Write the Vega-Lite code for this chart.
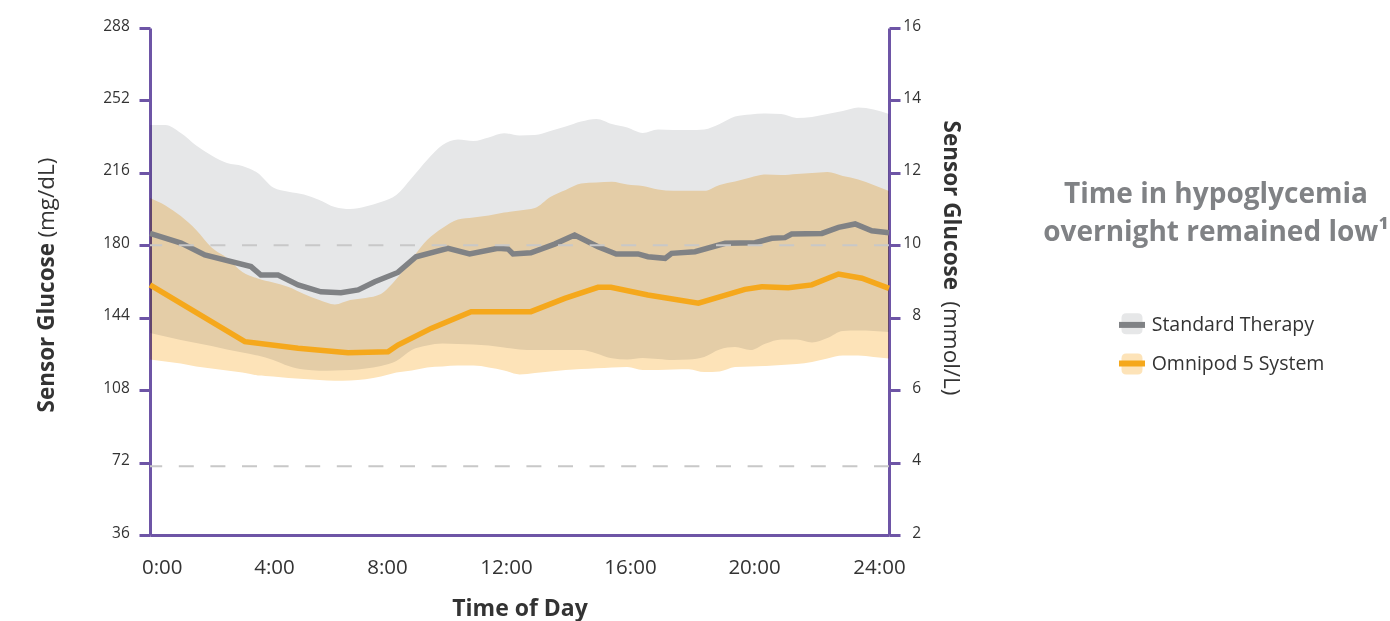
{
  "$schema": "https://vega.github.io/schema/vega-lite/v6.json",
  "width": 739,
  "height": 507,
  "autosize": {"type": "none"},
  "padding": {"left": 150, "top": 28, "right": 501, "bottom": 86},
  "background": "white",
  "config": {
    "font": "Open Sans",
    "view": {"stroke": null},
    "axis": {"labelFont": "Open Sans", "titleFont": "Open Sans", "grid": false},
    "legend": {"labelFont": "Open Sans"},
    "title": {"font": "Open Sans"}
  },
  "title": {
    "text": ["Time in hypoglycemia", "overnight remained low¹"],
    "anchor": "start",
    "frame": "group",
    "align": "center",
    "baseline": "top",
    "dx": 1066,
    "dy": 229,
    "offset": 0,
    "fontSize": 28,
    "fontWeight": "bold",
    "color": "#808285",
    "lineHeight": 38.4
  },
  "datasets": {
    "bands": [
      {"h": 0, "band": "Standard Therapy", "lo": 136.4, "hi": 239.8}, {"h": 0, "band": "Omnipod 5 System", "lo": 123.2, "hi": 203.5},
      {"h": 0.5, "band": "Standard Therapy", "lo": 134.7, "hi": 239.8}, {"h": 0.5, "band": "Omnipod 5 System", "lo": 122.2, "hi": 199.8},
      {"h": 1, "band": "Standard Therapy", "lo": 132.9, "hi": 235.8}, {"h": 1, "band": "Omnipod 5 System", "lo": 121.2, "hi": 194.5},
      {"h": 1.5, "band": "Standard Therapy", "lo": 131.4, "hi": 229.6}, {"h": 1.5, "band": "Omnipod 5 System", "lo": 119.7, "hi": 187.6},
      {"h": 2, "band": "Standard Therapy", "lo": 129.9, "hi": 224.6}, {"h": 2, "band": "Omnipod 5 System", "lo": 118.8, "hi": 178.9},
      {"h": 2.5, "band": "Standard Therapy", "lo": 128.2, "hi": 220.9}, {"h": 2.5, "band": "Omnipod 5 System", "lo": 117.8, "hi": 173.7},
      {"h": 3, "band": "Standard Therapy", "lo": 126.7, "hi": 219.4}, {"h": 3, "band": "Omnipod 5 System", "lo": 116.8, "hi": 166.7},
      {"h": 3.5, "band": "Standard Therapy", "lo": 125.2, "hi": 215.9}, {"h": 3.5, "band": "Omnipod 5 System", "lo": 115.3, "hi": 163.5},
      {"h": 4, "band": "Standard Therapy", "lo": 123.0, "hi": 208.7}, {"h": 4, "band": "Omnipod 5 System", "lo": 114.8, "hi": 161.5},
      {"h": 4.5, "band": "Standard Therapy", "lo": 120.0, "hi": 206.6}, {"h": 4.5, "band": "Omnipod 5 System", "lo": 114.0, "hi": 159.3},
      {"h": 5, "band": "Standard Therapy", "lo": 118.2, "hi": 205.2}, {"h": 5, "band": "Omnipod 5 System", "lo": 113.5, "hi": 155.8},
      {"h": 5.5, "band": "Standard Therapy", "lo": 117.7, "hi": 202.5}, {"h": 5.5, "band": "Omnipod 5 System", "lo": 113.0, "hi": 152.8},
      {"h": 6, "band": "Standard Therapy", "lo": 117.8, "hi": 199.0}, {"h": 6, "band": "Omnipod 5 System", "lo": 112.7, "hi": 150.6},
      {"h": 6.5, "band": "Standard Therapy", "lo": 118.0, "hi": 198.0}, {"h": 6.5, "band": "Omnipod 5 System", "lo": 112.8, "hi": 152.8},
      {"h": 7, "band": "Standard Therapy", "lo": 118.8, "hi": 199.3}, {"h": 7, "band": "Omnipod 5 System", "lo": 113.4, "hi": 153.8},
      {"h": 7.5, "band": "Standard Therapy", "lo": 120.0, "hi": 201.5}, {"h": 7.5, "band": "Omnipod 5 System", "lo": 114.8, "hi": 155.8},
      {"h": 8, "band": "Standard Therapy", "lo": 122.5, "hi": 205.0}, {"h": 8, "band": "Omnipod 5 System", "lo": 116.8, "hi": 163.2},
      {"h": 8.5, "band": "Standard Therapy", "lo": 128.0, "hi": 213.4}, {"h": 8.5, "band": "Omnipod 5 System", "lo": 117.8, "hi": 173.2},
      {"h": 9, "band": "Standard Therapy", "lo": 130.2, "hi": 222.4}, {"h": 9, "band": "Omnipod 5 System", "lo": 119.3, "hi": 182.6},
      {"h": 9.5, "band": "Standard Therapy", "lo": 131.2, "hi": 229.8}, {"h": 9.5, "band": "Omnipod 5 System", "lo": 119.8, "hi": 188.6},
      {"h": 10, "band": "Standard Therapy", "lo": 130.9, "hi": 232.6}, {"h": 10, "band": "Omnipod 5 System", "lo": 120.2, "hi": 192.8},
      {"h": 10.5, "band": "Standard Therapy", "lo": 130.7, "hi": 231.8}, {"h": 10.5, "band": "Omnipod 5 System", "lo": 120.2, "hi": 193.8},
      {"h": 11, "band": "Standard Therapy", "lo": 130.2, "hi": 233.6}, {"h": 11, "band": "Omnipod 5 System", "lo": 119.3, "hi": 194.8},
      {"h": 11.5, "band": "Standard Therapy", "lo": 129.2, "hi": 235.7}, {"h": 11.5, "band": "Omnipod 5 System", "lo": 117.8, "hi": 196.3},
      {"h": 12, "band": "Standard Therapy", "lo": 128.2, "hi": 234.6}, {"h": 12, "band": "Omnipod 5 System", "lo": 115.8, "hi": 197.3},
      {"h": 12.5, "band": "Standard Therapy", "lo": 127.9, "hi": 234.8}, {"h": 12.5, "band": "Omnipod 5 System", "lo": 116.5, "hi": 198.5},
      {"h": 13, "band": "Standard Therapy", "lo": 127.9, "hi": 236.8}, {"h": 13, "band": "Omnipod 5 System", "lo": 117.3, "hi": 204.0},
      {"h": 13.5, "band": "Standard Therapy", "lo": 127.9, "hi": 239.0}, {"h": 13.5, "band": "Omnipod 5 System", "lo": 118.0, "hi": 207.5},
      {"h": 14, "band": "Standard Therapy", "lo": 127.9, "hi": 241.5}, {"h": 14, "band": "Omnipod 5 System", "lo": 118.5, "hi": 210.7},
      {"h": 14.5, "band": "Standard Therapy", "lo": 126.2, "hi": 242.8}, {"h": 14.5, "band": "Omnipod 5 System", "lo": 118.9, "hi": 211.2},
      {"h": 15, "band": "Standard Therapy", "lo": 123.8, "hi": 240.3}, {"h": 15, "band": "Omnipod 5 System", "lo": 119.3, "hi": 211.6},
      {"h": 15.5, "band": "Standard Therapy", "lo": 123.2, "hi": 238.5}, {"h": 15.5, "band": "Omnipod 5 System", "lo": 119.5, "hi": 210.2},
      {"h": 16, "band": "Standard Therapy", "lo": 124.0, "hi": 235.8}, {"h": 16, "band": "Omnipod 5 System", "lo": 118.0, "hi": 209.5},
      {"h": 16.5, "band": "Standard Therapy", "lo": 123.5, "hi": 237.5}, {"h": 16.5, "band": "Omnipod 5 System", "lo": 118.0, "hi": 207.7},
      {"h": 17, "band": "Standard Therapy", "lo": 123.0, "hi": 237.3}, {"h": 17, "band": "Omnipod 5 System", "lo": 118.3, "hi": 207.1},
      {"h": 17.5, "band": "Standard Therapy", "lo": 123.2, "hi": 237.3}, {"h": 17.5, "band": "Omnipod 5 System", "lo": 118.4, "hi": 207.1},
      {"h": 18, "band": "Standard Therapy", "lo": 124.5, "hi": 237.6}, {"h": 18, "band": "Omnipod 5 System", "lo": 117.0, "hi": 207.1},
      {"h": 18.5, "band": "Standard Therapy", "lo": 128.2, "hi": 240.3}, {"h": 18.5, "band": "Omnipod 5 System", "lo": 117.3, "hi": 210.0},
      {"h": 19, "band": "Standard Therapy", "lo": 129.4, "hi": 244.0}, {"h": 19, "band": "Omnipod 5 System", "lo": 119.5, "hi": 211.7},
      {"h": 19.5, "band": "Standard Therapy", "lo": 127.9, "hi": 245.0}, {"h": 19.5, "band": "Omnipod 5 System", "lo": 119.7, "hi": 213.7},
      {"h": 20, "band": "Standard Therapy", "lo": 131.2, "hi": 245.5}, {"h": 20, "band": "Omnipod 5 System", "lo": 120.0, "hi": 215.2},
      {"h": 20.5, "band": "Standard Therapy", "lo": 133.2, "hi": 245.2}, {"h": 20.5, "band": "Omnipod 5 System", "lo": 120.5, "hi": 214.9},
      {"h": 21, "band": "Standard Therapy", "lo": 133.2, "hi": 243.3}, {"h": 21, "band": "Omnipod 5 System", "lo": 121.0, "hi": 215.4},
      {"h": 21.5, "band": "Standard Therapy", "lo": 131.7, "hi": 243.8}, {"h": 21.5, "band": "Omnipod 5 System", "lo": 122.0, "hi": 215.9},
      {"h": 22, "band": "Standard Therapy", "lo": 133.9, "hi": 245.2}, {"h": 22, "band": "Omnipod 5 System", "lo": 123.7, "hi": 216.4},
      {"h": 22.5, "band": "Standard Therapy", "lo": 137.4, "hi": 246.7}, {"h": 22.5, "band": "Omnipod 5 System", "lo": 125.2, "hi": 214.4},
      {"h": 23, "band": "Standard Therapy", "lo": 137.6, "hi": 248.5}, {"h": 23, "band": "Omnipod 5 System", "lo": 125.2, "hi": 212.7},
      {"h": 23.5, "band": "Standard Therapy", "lo": 137.4, "hi": 247.5}, {"h": 23.5, "band": "Omnipod 5 System", "lo": 124.5, "hi": 210.0},
      {"h": 24, "band": "Standard Therapy", "lo": 136.9, "hi": 245.2}, {"h": 24, "band": "Omnipod 5 System", "lo": 123.7, "hi": 207.0}
    ],
    "medians": [
      {"h": 0, "series": "Standard Therapy", "glucose": 185.9},
      {"h": 1.01, "series": "Standard Therapy", "glucose": 181.1},
      {"h": 1.78, "series": "Standard Therapy", "glucose": 175.2},
      {"h": 3.28, "series": "Standard Therapy", "glucose": 169.4},
      {"h": 3.6, "series": "Standard Therapy", "glucose": 165.2},
      {"h": 4.16, "series": "Standard Therapy", "glucose": 165.2},
      {"h": 4.81, "series": "Standard Therapy", "glucose": 160.3},
      {"h": 5.55, "series": "Standard Therapy", "glucose": 156.9},
      {"h": 6.2, "series": "Standard Therapy", "glucose": 156.4},
      {"h": 6.76, "series": "Standard Therapy", "glucose": 157.8},
      {"h": 7.3, "series": "Standard Therapy", "glucose": 161.9},
      {"h": 8.05, "series": "Standard Therapy", "glucose": 166.5},
      {"h": 8.64, "series": "Standard Therapy", "glucose": 174.3},
      {"h": 9.68, "series": "Standard Therapy", "glucose": 178.5},
      {"h": 10.38, "series": "Standard Therapy", "glucose": 175.7},
      {"h": 11.3, "series": "Standard Therapy", "glucose": 178.5},
      {"h": 11.63, "series": "Standard Therapy", "glucose": 178.1},
      {"h": 11.79, "series": "Standard Therapy", "glucose": 175.7},
      {"h": 12.37, "series": "Standard Therapy", "glucose": 176.3},
      {"h": 13.14, "series": "Standard Therapy", "glucose": 180.6},
      {"h": 13.79, "series": "Standard Therapy", "glucose": 185.1},
      {"h": 14.55, "series": "Standard Therapy", "glucose": 179.3},
      {"h": 15.14, "series": "Standard Therapy", "glucose": 175.7},
      {"h": 15.85, "series": "Standard Therapy", "glucose": 175.7},
      {"h": 16.17, "series": "Standard Therapy", "glucose": 174.3},
      {"h": 16.73, "series": "Standard Therapy", "glucose": 173.5},
      {"h": 16.94, "series": "Standard Therapy", "glucose": 176.0},
      {"h": 17.7, "series": "Standard Therapy", "glucose": 176.8},
      {"h": 18.68, "series": "Standard Therapy", "glucose": 181.0},
      {"h": 19.65, "series": "Standard Therapy", "glucose": 181.3},
      {"h": 20.19, "series": "Standard Therapy", "glucose": 183.5},
      {"h": 20.62, "series": "Standard Therapy", "glucose": 183.8},
      {"h": 20.84, "series": "Standard Therapy", "glucose": 185.6},
      {"h": 21.82, "series": "Standard Therapy", "glucose": 185.9},
      {"h": 22.36, "series": "Standard Therapy", "glucose": 188.9},
      {"h": 22.9, "series": "Standard Therapy", "glucose": 190.6},
      {"h": 23.44, "series": "Standard Therapy", "glucose": 187.2},
      {"h": 24, "series": "Standard Therapy", "glucose": 186.2},
      {"h": 0, "series": "Omnipod 5 System", "glucose": 160.3},
      {"h": 3.08, "series": "Omnipod 5 System", "glucose": 132.1},
      {"h": 4.81, "series": "Omnipod 5 System", "glucose": 128.8},
      {"h": 6.43, "series": "Omnipod 5 System", "glucose": 126.6},
      {"h": 7.73, "series": "Omnipod 5 System", "glucose": 127.1},
      {"h": 8.05, "series": "Omnipod 5 System", "glucose": 130.4},
      {"h": 9.13, "series": "Omnipod 5 System", "glucose": 138.7},
      {"h": 10.43, "series": "Omnipod 5 System", "glucose": 147.0},
      {"h": 12.37, "series": "Omnipod 5 System", "glucose": 147.0},
      {"h": 13.47, "series": "Omnipod 5 System", "glucose": 153.6},
      {"h": 14.55, "series": "Omnipod 5 System", "glucose": 159.1},
      {"h": 14.97, "series": "Omnipod 5 System", "glucose": 159.1},
      {"h": 16.17, "series": "Omnipod 5 System", "glucose": 155.3},
      {"h": 17.81, "series": "Omnipod 5 System", "glucose": 151.2},
      {"h": 19.32, "series": "Omnipod 5 System", "glucose": 158.1},
      {"h": 19.87, "series": "Omnipod 5 System", "glucose": 159.4},
      {"h": 20.73, "series": "Omnipod 5 System", "glucose": 158.9},
      {"h": 21.49, "series": "Omnipod 5 System", "glucose": 160.3},
      {"h": 22.36, "series": "Omnipod 5 System", "glucose": 165.7},
      {"h": 23.12, "series": "Omnipod 5 System", "glucose": 163.6},
      {"h": 24, "series": "Omnipod 5 System", "glucose": 158.6}
    ],
    "targets": [
      {"mmol": 10},
      {"mmol": 3.9}
    ]
  },
  "layer": [
    {
      "data": {"name": "bands"},
      "mark": {"type": "area", "blend": "multiply", "interpolate": "monotone"},
      "encoding": {
        "x": {
          "field": "h", "type": "quantitative",
          "scale": {"domain": [0, 24], "nice": false, "zero": false},
          "axis": {
            "orient": "bottom",
            "values": [0, 4, 8, 12, 16, 20, 24],
            "labelExpr": "datum.value + ':00'",
            "labelFlush": false,
            "ticks": false,
            "domainColor": "#6e55a6",
            "domainWidth": 3,
            "labelFontSize": 20.5,
            "labelColor": "#333333",
            "labelPadding": 38.3,
            "labelBaseline": "alphabetic",
            "labelOffset": {"expr": "datum.value == 0 ? 11.7 : datum.value == 4 ? 0.8 : datum.value == 8 ? -9.3 : datum.value == 12 ? -13.5 : datum.value == 16 ? -12.7 : datum.value == 20 ? -11.8 : -10"},
            "title": "Time of Day",
            "titleFontSize": 23,
            "titleFontWeight": "bold",
            "titleColor": "#333333",
            "titleBaseline": "alphabetic",
            "titleX": 369.5,
            "titleY": 80
          }
        },
        "y": {
          "field": "lo", "type": "quantitative",
          "scale": {"domain": [36, 288], "nice": false, "zero": false},
          "axis": {
            "orient": "left",
            "values": [36, 72, 108, 144, 180, 216, 252, 288],
            "domainColor": "#6e55a6",
            "domainWidth": 3,
            "tickColor": "#6e55a6",
            "tickWidth": 3,
            "tickSize": 11,
            "labelFontSize": 15.5,
            "labelColor": "#333333",
            "labelPadding": 9.7,
            "labelOffset": -3,
            "title": "Sensor Glucose",
            "titleFontSize": 22.5,
            "titleFontWeight": "bold",
            "titleColor": "#333333",
            "titleAngle": -90,
            "titleAlign": "left",
            "titleBaseline": "alphabetic",
            "titleX": -97,
            "titleY": 384
          }
        },
        "y2": {"field": "hi"},
        "fill": {
          "field": "band", "type": "nominal",
          "sort": ["Standard Therapy", "Omnipod 5 System"],
          "scale": {"range": ["#e6e7e8", "#fde3b8"]},
          "legend": {
            "orient": "none",
            "legendX": 971.5,
            "legendY": 285.2,
            "title": null,
            "padding": 0,
            "symbolType": "M -0.55 -1 L 0.55 -1 Q 1 -1 1 -0.55 L 1 0.55 Q 1 1 0.55 1 L -0.55 1 Q -1 1 -1 0.55 L -1 -0.55 Q -1 -1 -0.55 -1 Z",
            "symbolSize": 441,
            "symbolStrokeWidth": 0,
            "symbolOpacity": 1,
            "labelExpr": "''",
            "labelFontSize": 19.5,
            "labelOffset": 0,
            "rowPadding": 19.3,
            "encode": {
              "symbols": {
                "update": {
                  "fill": {"signal": "datum.value === 'Standard Therapy' ? '#d9dadc' : '#fde3b8'"}
                }
              }
            }
          }
        }
      }
    },
    {
      "data": {"name": "medians"},
      "mark": {"type": "line", "strokeWidth": 5.5},
      "encoding": {
        "x": {"field": "h", "type": "quantitative"},
        "y": {
          "field": "glucose", "type": "quantitative",
          "scale": {"domain": [36, 288], "nice": false, "zero": false},
          "axis": {
            "orient": "left",
            "domain": false,
            "ticks": false,
            "labels": false,
            "title": "(mg/dL)",
            "titleFontSize": 22.5,
            "titleFontWeight": "normal",
            "titleColor": "#333333",
            "titleAngle": -90,
            "titleAlign": "right",
            "titleBaseline": "alphabetic",
            "titleX": -97,
            "titleY": 129
          }
        },
        "stroke": {
          "field": "series", "type": "nominal",
          "sort": ["Standard Therapy", "Omnipod 5 System"],
          "scale": {"range": ["#808285", "#f5a81c"]},
          "legend": {
            "orient": "none",
            "legendX": 966,
            "legendY": 280.9,
            "title": null,
            "padding": 0,
            "symbolType": "stroke",
            "symbolSize": 676,
            "symbolStrokeWidth": 6,
            "labelFontSize": 19.5,
            "labelColor": "#333333",
            "labelOffset": 3.7,
            "labelLimit": 0,
            "rowPadding": 10.6
          }
        }
      }
    },
    {
      "data": {"name": "targets"},
      "transform": [{"filter": "datum.mmol == 10"}],
      "mark": {"type": "rule", "color": "#c8c8c8", "strokeWidth": 2, "strokeDash": [15, 16.6]},
      "encoding": {
        "y": {
          "field": "mmol", "type": "quantitative",
          "scale": {"domain": [2, 16], "nice": false, "zero": false},
          "axis": {
            "orient": "right",
            "values": [2, 4, 6, 8, 10, 12, 14, 16],
            "domainColor": "#6e55a6",
            "domainWidth": 3,
            "tickColor": "#6e55a6",
            "tickWidth": 3,
            "tickSize": 11,
            "labelFontSize": 15.5,
            "labelColor": "#333333",
            "labelAlign": "right",
            "labelPadding": 20.5,
            "labelOffset": -3,
            "title": "Sensor Glucose",
            "titleFontSize": 22.5,
            "titleFontWeight": "bold",
            "titleColor": "#333333",
            "titleAngle": 90,
            "titleAlign": "left",
            "titleBaseline": "alphabetic",
            "titleX": 54,
            "titleY": 92
          }
        }
      }
    },
    {
      "data": {"name": "targets"},
      "transform": [{"filter": "datum.mmol < 5"}],
      "mark": {"type": "rule", "color": "#c8c8c8", "strokeWidth": 2, "strokeDash": [15, 16.6]},
      "encoding": {
        "y": {
          "field": "mmol", "type": "quantitative",
          "scale": {"domain": [2, 16], "nice": false, "zero": false},
          "axis": {
            "orient": "right",
            "domain": false,
            "ticks": false,
            "labels": false,
            "title": "(mmol/L)",
            "titleFontSize": 22.5,
            "titleFontWeight": "normal",
            "titleColor": "#333333",
            "titleAngle": 90,
            "titleAlign": "right",
            "titleBaseline": "alphabetic",
            "titleX": 54,
            "titleY": 367
          }
        }
      }
    }
  ],
  "resolve": {"scale": {"y": "independent"}, "axis": {"y": "independent"}}
}
